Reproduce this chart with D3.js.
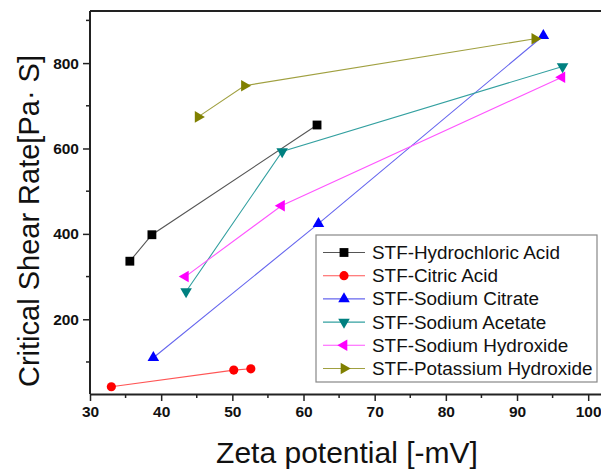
<!DOCTYPE html>
<html>
<head>
<meta charset="utf-8">
<script src="https://cdn.jsdelivr.net/npm/d3@7"></script>
<style>
  body { margin: 0; background: #fff; }
  svg { display: block; font-family: "Liberation Sans", Arial, sans-serif; }
  .tick text { font-weight: 700; }
</style>
</head>
<body>
<div id="chart"></div>
<script>
// Critical shear rate vs zeta potential, six STF series

const seriesNames = [
  "STF-Hydrochloric Acid",
  "STF-Citric Acid",
  "STF-Sodium Citrate",
  "STF-Sodium Acetate",
  "STF-Sodium Hydroxide",
  "STF-Potassium Hydroxide"
];

// zeta potential [-mV]
const hclX    = [35.6, 38.7, 61.9];
const citricX = [33.0, 50.2, 52.6];
const naCitX  = [38.9, 62.1, 93.7];
const naAcX   = [43.5, 57.0, 96.4];
const naohX   = [43.4, 56.9, 96.3];
const kohX    = [45.2, 51.7, 92.5];

// critical shear rate [Pa·S]
const hclY    = [336, 398, 655];
const citricY = [42, 81, 84];
const naCitY  = [110, 424, 864];
const naAcY   = [265, 593, 792];
const naohY   = [300, 466, 767];
const kohY    = [674, 747, 857];

const xTicks = [30, 40, 50, 60, 70, 80, 90, 100];
const yTicks = [200, 400, 600, 800];

const colors = ["#000000", "#ff0000", "#0000ff", "#008080", "#ff00ff", "#808000"];
const lineColors = ["#555555", "#ff5555", "#6666ee", "#33a0a0", "#ff55ff", "#a0a040"];
// marker: symbol type + rotation
const markers = [
  {type: d3.symbolSquare, size: 78, rot: 0},
  {type: d3.symbolCircle, size: 66, rot: 0},
  {type: d3.symbolTriangle, size: 58, rot: 0},
  {type: d3.symbolTriangle, size: 58, rot: 180},
  {type: d3.symbolTriangle, size: 58, rot: -90},
  {type: d3.symbolTriangle, size: 58, rot: 90}
];

const xs = [hclX, citricX, naCitX, naAcX, naohX, kohX];
const ys = [hclY, citricY, naCitY, naAcY, naohY, kohY];
const series = seriesNames.map((name, i) => ({
  name, i,
  pts: xs[i].map((x, j) => ({x, y: ys[i][j]}))
}));

const width = 601, height = 469;
const L = 90, R = 601, T = 11, B = 394;

const svg = d3.select("#chart").append("svg")
  .attr("width", width).attr("height", height);

const x = d3.scaleLinear().domain([30, 101.8]).range([L, R]);
const y = d3.scaleLinear().domain([25, 922]).range([B, T]);

// minor ticks
const g = svg.append("g");
g.append("g").selectAll("line").data(d3.range(35, 101, 10)).join("line")
  .attr("x1", d => x(d)).attr("x2", d => x(d))
  .attr("y1", B).attr("y2", B + 4)
  .attr("stroke", "#222").attr("stroke-width", 1.5);
g.append("g").selectAll("line").data([100, 300, 500, 700, 900]).join("line")
  .attr("y1", d => y(d)).attr("y2", d => y(d))
  .attr("x1", L).attr("x2", L - 4)
  .attr("stroke", "#222").attr("stroke-width", 1.5);

// axes
const xAxis = svg.append("g").attr("transform", `translate(0,${B})`)
  .call(d3.axisBottom(x).tickValues(xTicks).tickSize(7).tickPadding(5).tickSizeOuter(0));
const yAxis = svg.append("g").attr("transform", `translate(${L},0)`)
  .call(d3.axisLeft(y).tickValues(yTicks).tickSize(7).tickPadding(4).tickSizeOuter(0));

[xAxis, yAxis].forEach(a => {
  a.attr("font-family", "'Liberation Sans', Arial, sans-serif")
   .attr("font-size", 15)
   .attr("font-weight", "bold");
  a.select(".domain").attr("stroke", "#222").attr("stroke-width", 2);
  a.selectAll(".tick line").attr("stroke", "#222").attr("stroke-width", 1.5);
  a.selectAll(".tick text")
    .attr("fill", "#111")
    .attr("font-weight", "bold")
    .style("font-size", "15.5px");
});
yAxis.select(".domain").attr("d", `M0,${B}V${T}`);

// top frame
svg.append("line")
  .attr("x1", L).attr("x2", R).attr("y1", T).attr("y2", T)
  .attr("stroke", "#222").attr("stroke-width", 2);

// series
const line = d3.line().x(d => x(d.x)).y(d => y(d.y));
const sym = (m) => d3.symbol().type(m.type).size(m.size)();

series.forEach(s => {
  svg.append("path")
    .attr("d", line(s.pts))
    .attr("fill", "none")
    .attr("stroke", lineColors[s.i])
    .attr("stroke-width", 1.1);
  svg.append("g").selectAll("path").data(s.pts).join("path")
    .attr("d", sym(markers[s.i]))
    .attr("transform", d => `translate(${x(d.x)},${y(d.y)}) rotate(${markers[s.i].rot})`)
    .attr("fill", colors[s.i]);
});

// legend
const lg = svg.append("g").attr("transform", "translate(316,235)");
lg.append("rect")
  .attr("width", 281).attr("height", 147)
  .attr("fill", "#fff").attr("stroke", "#888").attr("stroke-width", 1.2);
const row = lg.selectAll("g.row").data(series).join("g")
  .attr("class", "row")
  .attr("transform", d => `translate(0,${17.5 + d.i * 23.2})`);
row.append("line")
  .attr("x1", 7).attr("x2", 49)
  .attr("stroke", d => lineColors[d.i]).attr("stroke-width", 1.1);
row.append("path")
  .attr("d", d => sym(markers[d.i]))
  .attr("transform", d => `translate(28,0) rotate(${markers[d.i].rot})`)
  .attr("fill", d => colors[d.i]);
row.append("text")
  .attr("x", 56).attr("y", 6.5)
  .style("font-size", "18.9px")
  .attr("fill", "#111")
  .text(d => d.name);

// axis titles
svg.append("text")
  .attr("x", 347).attr("y", 463)
  .attr("text-anchor", "middle")
  .style("font-size", "30px")
  .attr("fill", "#111")
  .text("Zeta potential [-mV]");
svg.append("text")
  .attr("transform", "translate(39,221) rotate(-90)")
  .attr("text-anchor", "middle")
  .style("font-size", "29px")
  .attr("fill", "#111")
  .text("Critical Shear Rate[Pa· S]");
</script>
</body>
</html>
